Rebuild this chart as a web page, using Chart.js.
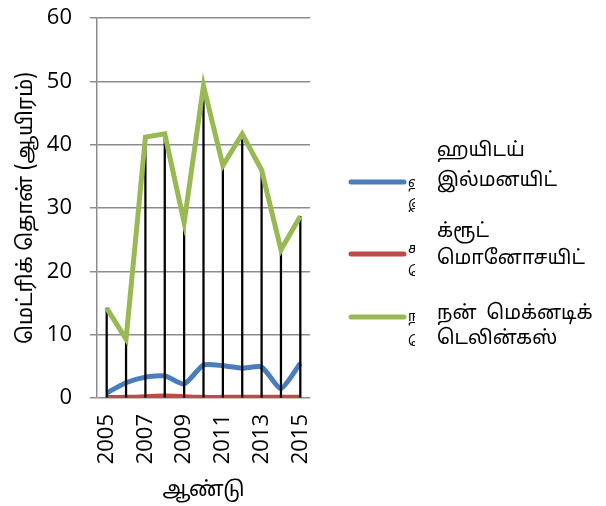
<!DOCTYPE html>
<html>
<head>
<meta charset="utf-8">
<script src="https://cdn.jsdelivr.net/npm/chart.js@4"></script>
<style>
  html, body { margin: 0; padding: 0; background: #ffffff; }
  #wrap { width: 606px; height: 506px; }
</style>
</head>
<body>
<div id="wrap"><canvas id="chart" width="606" height="506"></canvas></div>
<script>
// Daten
const years = ['2005', '2006', '2007', '2008', '2009', '2010', '2011', '2012', '2013', '2014', '2015'];
const ilmenite = [0.8, 2.4, 3.3, 3.5, 2.2, 5.2, 5.1, 4.7, 4.9, 1.5, 5.5];
const monazite = [0.1, 0.1, 0.2, 0.3, 0.2, 0.1, 0.1, 0.1, 0.1, 0.1, 0.1];
const nonMagnetic = [14.2, 9.3, 41.2, 41.7, 27.7, 49.3, 36.7, 41.7, 36.0, 23.4, 28.7];
const yTicks = [0, 10, 20, 30, 40, 50, 60];

const seriesNames = [
  ['ஹயிடய்', 'இல்மனயிட்'],
  ['க்ரூட்', 'மொனோசயிட்'],
  ['நன்  மெக்னடிக்', 'டெலின்கஸ்']
];
const colors = ['#4a7ebb', '#be4b48', '#98b954'];

const tamilFont = "'Noto Sans Tamil', 'Lohit Tamil', 'Noto Sans', sans-serif";
const numFont = "'Open Sans', sans-serif";

// Legende rechts: Linie, abgeschnittene Reste und zweizeiliger Text
const sideLegend = {
  id: 'sideLegend',
  afterDraw(chart) {
    const ctx = chart.ctx;
    const lineY = [182, 254, 317];
    const textY = [[152, 182], [233, 260], [315, 340]];
    const stubY = [[184, 207], [250, 273], [318, 343]];
    ctx.save();
    ctx.fillStyle = '#000';
    ctx.textBaseline = 'middle';
    lineY.forEach((y, i) => {
      ctx.strokeStyle = colors[i];
      ctx.lineWidth = 5;
      ctx.lineCap = 'round';
      ctx.beginPath();
      ctx.moveTo(351, y);
      ctx.lineTo(404, y);
      ctx.stroke();

      ctx.font = '19.5px ' + tamilFont;
      ctx.fillText(seriesNames[i][0], 437, textY[i][0]);
      ctx.fillText(seriesNames[i][1], 437, textY[i][1]);

      // abgeschnittene Beschriftung neben der Linie
      ctx.save();
      ctx.beginPath();
      ctx.rect(408, y - 10, 7, 40);
      ctx.clip();
      ctx.font = '14px ' + tamilFont;
      ctx.fillText(seriesNames[i][0], 408, stubY[i][0]);
      ctx.fillText(seriesNames[i][1], 408, stubY[i][1]);
      ctx.restore();
    });
    ctx.restore();
  }
};

const ctx = document.getElementById('chart').getContext('2d');
new Chart(ctx, {
  type: 'line',
  data: {
    labels: years,
    datasets: [
      {
        label: seriesNames[0].join(' '),
        data: ilmenite,
        borderColor: colors[0],
        borderWidth: 5,
        pointRadius: 0,
        tension: 0.2,
        order: 3
      },
      {
        label: seriesNames[1].join(' '),
        data: monazite,
        borderColor: colors[1],
        borderWidth: 5,
        pointRadius: 0,
        tension: 0.2,
        order: 3
      },
      {
        // Lotlinien
        type: 'bar',
        label: 'drop',
        data: nonMagnetic,
        backgroundColor: '#000',
        barThickness: 1.6,
        order: 2
      },
      {
        label: seriesNames[2].join(' '),
        data: nonMagnetic,
        borderColor: colors[2],
        borderWidth: 5,
        pointRadius: 0,
        tension: 0,
        order: 1
      }
    ]
  },
  options: {
    responsive: false,
    animation: false,
    layout: { padding: { left: 15, top: 0, right: 296, bottom: 0 } },
    scales: {
      x: {
        offset: true,
        afterFit: (scale) => { scale.height = 108; },
        grid: { display: false, drawTicks: false },
        border: { display: false },
        ticks: {
          autoSkip: false,
          minRotation: 90,
          maxRotation: 90,
          color: '#000',
          font: { size: 22, family: numFont },
          padding: 16,
          callback: function (v, i) { return i % 2 === 0 ? years[i] : ''; }
        },
        title: {
          display: true,
          text: 'ஆண்டு',
          color: '#000',
          font: { size: 21, family: tamilFont },
          padding: { top: 0, bottom: 2 }
        }
      },
      y: {
        min: 0,
        max: 60,
        afterFit: (scale) => {
          scale.width = 82;
          scale.paddingTop = 18;
          scale.paddingBottom = 0;
        },
        afterBuildTicks: (axis) => { axis.ticks = yTicks.map(v => ({ value: v })); },
        grid: { color: '#8c8c8c', lineWidth: 1.5, tickLength: 7 },
        border: { color: '#8c8c8c', width: 1.5 },
        ticks: {
          color: '#000',
          font: { size: 22, family: numFont },
          padding: 18
        },
        title: {
          display: true,
          text: 'மெட்ரிக் தொன் (ஆயிரம்)',
          color: '#000',
          font: { size: 21, family: tamilFont },
          padding: { top: 0, bottom: 0 }
        }
      }
    },
    plugins: {
      legend: { display: false },
      tooltip: { enabled: false }
    }
  },
  plugins: [sideLegend]
});
</script>
</body>
</html>
